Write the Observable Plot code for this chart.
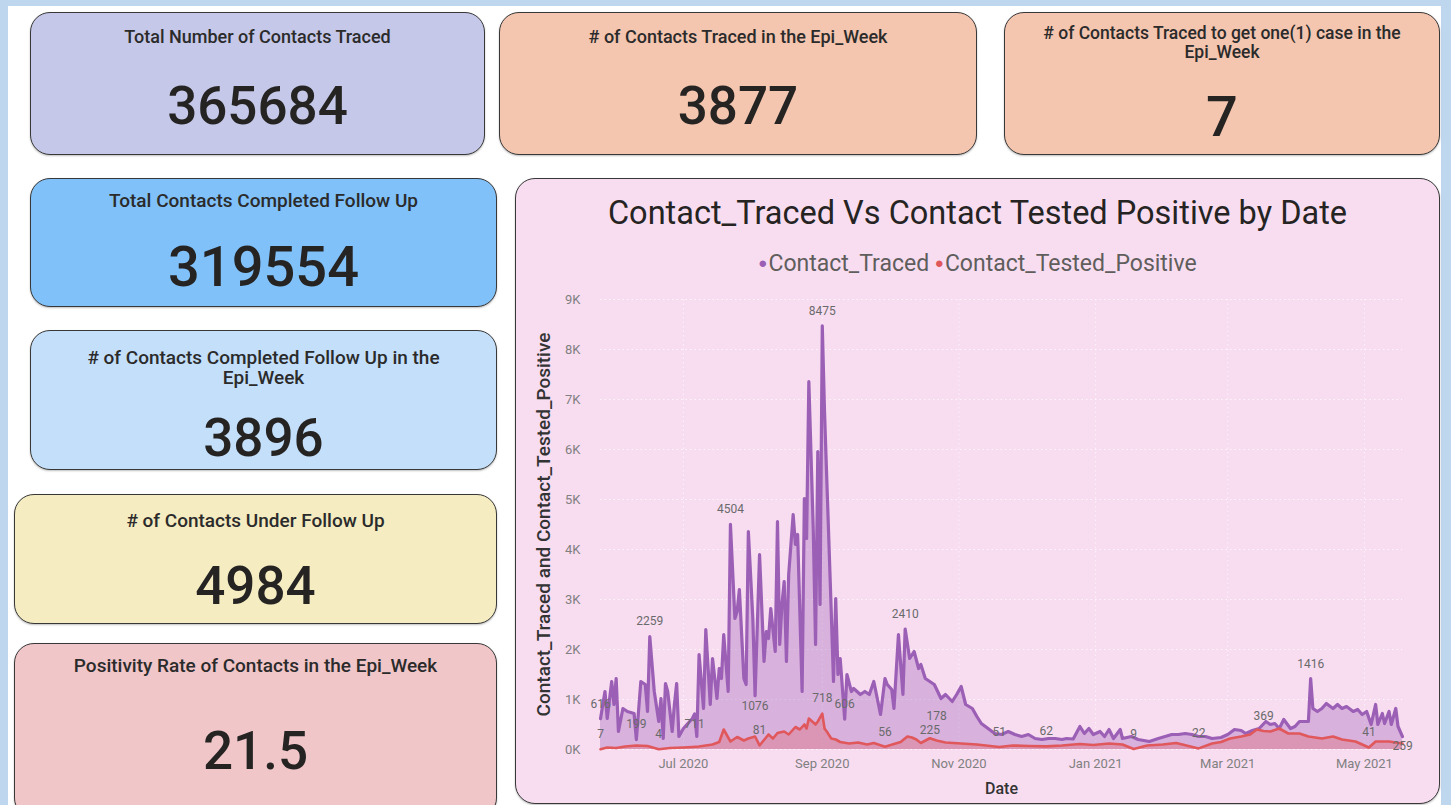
<!DOCTYPE html>
<html><head><meta charset="utf-8">
<script src="https://cdn.jsdelivr.net/npm/d3@7"></script>
<script src="https://cdn.jsdelivr.net/npm/@observablehq/plot@0.6"></script>
<style>
html,body{margin:0;padding:0;}
body{width:1451px;height:805px;background:#BFD7EE;position:relative;overflow:hidden;
  font-family:Roboto,"Noto Sans",sans-serif;color:#252423;}
#panel{position:absolute;left:8px;top:6px;width:1433px;height:799px;background:#fff;}
.card{position:absolute;box-sizing:border-box;border:1.6px solid #383838;border-radius:20px;
  box-shadow:0 1px 2px rgba(0,0,0,0.25);overflow:hidden;}
.ttl{position:absolute;left:0;right:0;text-align:center;white-space:pre-line;line-height:19px;color:#2b2b2b;}
.val{position:absolute;left:0;right:0;text-align:center;line-height:1;font-weight:500;color:#252423;}
#chartTitle{position:absolute;left:0;right:0;text-align:center;font-size:32.5px;line-height:1;color:#252423;}
#legend{position:absolute;left:0;right:0;text-align:center;font-size:23px;line-height:1;color:#605E5C;}
#legend .dot{font-size:15px;vertical-align:3px;margin-right:1px;}
#plotWrap{position:absolute;}
</style>
</head><body>
<div id="panel"></div>
<script>
// ---------- KPI data ----------
const kpiTitles = [
  "Total Number of Contacts Traced",
  "# of Contacts Traced in the Epi_Week",
  "# of Contacts Traced to get one(1) case in the\nEpi_Week",
  "Total Contacts Completed Follow Up",
  "# of Contacts Completed Follow Up in the\nEpi_Week",
  "# of Contacts Under Follow Up",
  "Positivity Rate of Contacts in the Epi_Week"
];
const kpiValues = ["365684", "3877", "7", "319554", "3896", "4984", "21.5"];

// ---------- Chart data ----------
const chartTitle = "Contact_Traced Vs Contact Tested Positive by Date";
const seriesNames = ["Contact_Traced", "Contact_Tested_Positive"];
const seriesColors = ["#9B5FB5", "#E0585B"];

const tracedDates = ["2020-05-25","2020-05-27","2020-05-28","2020-05-30","2020-05-31","2020-06-01","2020-06-02","2020-06-04","2020-06-06","2020-06-09","2020-06-10","2020-06-12","2020-06-14","2020-06-15","2020-06-16","2020-06-18","2020-06-20","2020-06-21","2020-06-22","2020-06-23","2020-06-24","2020-06-26","2020-06-27","2020-06-28","2020-06-29","2020-07-01","2020-07-05","2020-07-06","2020-07-07","2020-07-08","2020-07-10","2020-07-11","2020-07-13","2020-07-14","2020-07-16","2020-07-17","2020-07-18","2020-07-19","2020-07-21","2020-07-22","2020-07-24","2020-07-25","2020-07-26","2020-07-28","2020-07-29","2020-07-30","2020-08-01","2020-08-02","2020-08-04","2020-08-06","2020-08-07","2020-08-08","2020-08-09","2020-08-11","2020-08-12","2020-08-13","2020-08-14","2020-08-15","2020-08-16","2020-08-17","2020-08-19","2020-08-20","2020-08-21","2020-08-23","2020-08-24","2020-08-25","2020-08-26","2020-08-28","2020-08-29","2020-08-30","2020-08-31","2020-09-01","2020-09-02","2020-09-03","2020-09-05","2020-09-06","2020-09-07","2020-09-08","2020-09-09","2020-09-11","2020-09-12","2020-09-14","2020-09-15","2020-09-18","2020-09-20","2020-09-22","2020-09-24","2020-09-27","2020-09-29","2020-09-30","2020-10-02","2020-10-03","2020-10-05","2020-10-07","2020-10-08","2020-10-10","2020-10-12","2020-10-14","2020-10-15","2020-10-17","2020-10-19","2020-10-21","2020-10-24","2020-10-26","2020-10-29","2020-10-31","2020-11-02","2020-11-04","2020-11-07","2020-11-09","2020-11-11","2020-11-14","2020-11-17","2020-11-20","2020-11-23","2020-11-26","2020-11-29","2020-12-02","2020-12-05","2020-12-08","2020-12-11","2020-12-14","2020-12-17","2020-12-19","2020-12-22","2020-12-25","2020-12-27","2020-12-29","2020-12-31","2021-01-03","2021-01-05","2021-01-07","2021-01-09","2021-01-12","2021-01-13","2021-01-17","2021-01-20","2021-01-25","2021-01-29","2021-02-01","2021-02-04","2021-02-07","2021-02-10","2021-02-13","2021-02-16","2021-02-19","2021-02-22","2021-02-26","2021-03-01","2021-03-04","2021-03-07","2021-03-09","2021-03-12","2021-03-15","2021-03-18","2021-03-20","2021-03-22","2021-03-24","2021-03-26","2021-03-29","2021-03-31","2021-04-02","2021-04-05","2021-04-06","2021-04-07","2021-04-08","2021-04-10","2021-04-12","2021-04-14","2021-04-17","2021-04-19","2021-04-21","2021-04-23","2021-04-26","2021-04-28","2021-04-30","2021-05-02","2021-05-04","2021-05-06","2021-05-07","2021-05-09","2021-05-10","2021-05-12","2021-05-13","2021-05-15","2021-05-16","2021-05-18"];
const tracedValues = [616,1160,620,1360,900,1420,360,820,760,720,199,1360,1300,760,2259,1160,560,1020,220,1320,1160,360,900,1320,260,420,620,711,260,1900,820,2400,900,1820,1020,1620,1420,2300,1160,4504,2620,2760,3200,1420,1300,4360,2620,1076,3900,1760,2360,2220,2820,1960,4560,2100,2900,3360,1760,3500,4700,4100,4300,1160,5020,4220,7360,4360,2100,5960,2900,8475,6760,5420,2760,1360,3020,1500,1820,606,1500,1160,1220,1100,1160,1100,1360,700,1420,1300,1200,820,2300,1100,2410,1820,1960,1620,1700,1420,1360,1300,1020,1100,960,1100,1260,900,820,660,520,420,320,300,360,300,260,300,220,200,220,220,200,220,210,460,320,420,300,360,260,400,220,400,220,260,200,160,220,260,300,300,320,300,260,260,220,240,300,400,380,320,380,420,560,500,520,420,600,420,460,560,560,560,1416,820,760,820,920,820,900,820,860,760,800,700,760,500,900,500,720,520,760,500,820,460,259];

const positiveDates = ["2020-05-25","2020-05-28","2020-06-01","2020-06-05","2020-06-10","2020-06-15","2020-06-20","2020-06-25","2020-07-01","2020-07-05","2020-07-08","2020-07-11","2020-07-14","2020-07-17","2020-07-19","2020-07-22","2020-07-25","2020-07-28","2020-07-30","2020-08-02","2020-08-04","2020-08-08","2020-08-10","2020-08-12","2020-08-15","2020-08-17","2020-08-20","2020-08-22","2020-08-24","2020-08-25","2020-08-26","2020-08-29","2020-08-30","2020-09-01","2020-09-02","2020-09-03","2020-09-05","2020-09-07","2020-09-09","2020-09-13","2020-09-17","2020-09-21","2020-09-24","2020-09-29","2020-10-03","2020-10-06","2020-10-09","2020-10-11","2020-10-13","2020-10-15","2020-10-19","2020-10-22","2020-10-26","2020-11-02","2020-11-09","2020-11-19","2020-11-25","2020-12-02","2020-12-10","2020-12-17","2020-12-25","2020-12-31","2021-01-07","2021-01-13","2021-01-18","2021-01-24","2021-01-31","2021-02-06","2021-02-16","2021-02-22","2021-02-26","2021-03-02","2021-03-07","2021-03-11","2021-03-14","2021-03-17","2021-03-20","2021-03-24","2021-03-28","2021-04-02","2021-04-06","2021-04-12","2021-04-17","2021-04-21","2021-04-27","2021-05-03","2021-05-06","2021-05-12","2021-05-18"];
const positiveValues = [7,40,30,60,80,70,4,30,40,50,60,80,100,150,400,160,250,180,220,260,81,300,220,330,360,300,450,400,500,420,620,500,560,718,420,360,220,200,150,120,140,100,130,56,110,150,260,240,200,130,225,178,140,120,100,51,80,70,62,80,110,90,120,100,9,80,100,130,22,120,150,220,260,300,400,369,360,420,320,320,260,220,260,200,160,41,160,160,120];

// dates that carry a data label
const tracedLabelDates = ["2020-05-25","2020-06-10","2020-06-16","2020-07-22","2020-09-01","2020-09-11","2020-10-08","2021-04-07"];
const tracedBelowLabelDates = ["2020-07-06","2020-08-02","2021-05-18"];
const positiveLabelDates = ["2020-05-25","2020-06-20","2020-08-04","2020-09-01","2020-09-29","2020-11-19","2020-12-10","2021-01-18","2021-02-16","2021-03-17","2021-05-03"];
const positiveHighLabelDates = ["2020-10-22"];
const positiveLowLabelDates = ["2020-10-19"];

const yTicks = [0,1000,2000,3000,4000,5000,6000,7000,8000,9000];
const yTickLabels = ["0K","1K","2K","3K","4K","5K","6K","7K","8K","9K"];
const xTicks = ["2020-07-01","2020-09-01","2020-11-01","2021-01-01","2021-03-01","2021-05-01"];
const xTickLabels = ["Jul 2020","Sep 2020","Nov 2020","Jan 2021","Mar 2021","May 2021"];
const xDomain = ["2020-05-25","2021-05-18"];
const xTitle = "Date";
const yTitle = "Contact_Traced and Contact_Tested_Positive";

// ---------- layout (positions / styles) ----------
const cardLayout = [
  {x:30,  y:12,  w:455, h:143, bg:"#C5C8E8", ty:14, tf:"18px", tw:500, vy:67, vf:"53px"},
  {x:499, y:12,  w:478, h:143, bg:"#F4C5AF", ty:14, tf:"18px", tw:500, vy:67, vf:"53px"},
  {x:1004,y:12,  w:436, h:143, bg:"#F4C5AF", ty:11, tf:"17.5px", tw:500, vy:76, vf:"56px"},
  {x:30,  y:178, w:467, h:129, bg:"#80C1FA", ty:12, tf:"19px", tw:500, vy:60, vf:"56px"},
  {x:30,  y:330, w:467, h:140, bg:"#C4DFFA", ty:17, tf:"19px", tw:500, vy:81, vf:"53px", lh:"20px"},
  {x:14,  y:494, w:483, h:130, bg:"#F5ECC1", ty:16, tf:"19px", tw:500, vy:65, vf:"53px"},
  {x:14,  y:643, w:483, h:175, bg:"#F1C6C9", ty:12, tf:"19px", tw:500, vy:81, vf:"53px"}
];

const body = document.body;
kpiTitles.forEach((t, i) => {
  const L = cardLayout[i];
  const c = document.createElement("div");
  c.className = "card";
  Object.assign(c.style, {left:L.x+"px", top:L.y+"px", width:L.w+"px", height:L.h+"px", background:L.bg});
  const tt = document.createElement("div");
  tt.className = "ttl"; tt.textContent = t;
  Object.assign(tt.style, {top:L.ty+"px", fontSize:L.tf, fontWeight:L.tw});
  if (L.lh) tt.style.lineHeight = L.lh;
  const vv = document.createElement("div");
  vv.className = "val"; vv.textContent = kpiValues[i];
  Object.assign(vv.style, {top:L.vy+"px", fontSize:L.vf});
  c.appendChild(tt); c.appendChild(vv);
  body.appendChild(c);
});

// chart card
const cc = document.createElement("div");
cc.className = "card";
Object.assign(cc.style, {left:"515px", top:"178px", width:"925px", height:"626px", background:"#F8DDF1"});
body.appendChild(cc);
const ct = document.createElement("div");
ct.id = "chartTitle"; ct.textContent = chartTitle; ct.style.top = "18px";
cc.appendChild(ct);
const lg = document.createElement("div");
lg.id = "legend"; lg.style.top = "73px";
lg.innerHTML = seriesNames.map((n, i) => `<span class="dot" style="color:${seriesColors[i]}">●</span>${n}`).join(" ");
cc.appendChild(lg);

const parse = s => new Date(s + "T00:00:00Z");
const traced = tracedDates.map((d, i) => ({date: parse(d), value: tracedValues[i]}));
const positive = positiveDates.map((d, i) => ({date: parse(d), value: positiveValues[i]}));
const pick = (arr, ds) => arr.filter(r => ds.some(d => +parse(d) === +r.date));
const lbl = {x: "date", y: "value", text: d => String(d.value), fill: "#6a6a6a", fontSize: 12};

const font = 'Roboto,"Noto Sans",sans-serif';
const plot = Plot.plot({
  width: 910, height: 520,
  marginLeft: 79, marginRight: 29, marginTop: 13, marginBottom: 57,
  style: {background: "transparent", fontFamily: font, fontSize: "13px", color: "#808080", overflow: "visible"},
  x: {type: "utc", domain: xDomain.map(parse)},
  y: {domain: [0, 9000]},
  marks: [
    Plot.gridY(yTicks, {stroke: "#ffffff", strokeOpacity: 0.8, strokeDasharray: "1.5,3"}),
    Plot.gridX(xTicks.map(parse), {stroke: "#ffffff", strokeOpacity: 0.6, strokeDasharray: "1.5,3"}),
    Plot.areaY(traced, {x: "date", y: "value", fill: seriesColors[0], fillOpacity: 0.34}),
    Plot.areaY(positive, {x: "date", y: "value", fill: seriesColors[1], fillOpacity: 0.3}),
    Plot.lineY(traced, {x: "date", y: "value", stroke: seriesColors[0], strokeWidth: 3.2, strokeLinejoin: "round"}),
    Plot.lineY(positive, {x: "date", y: "value", stroke: seriesColors[1], strokeWidth: 2.6, strokeLinejoin: "round"}),
    Plot.text(pick(traced, tracedLabelDates), {...lbl, dy: -15}),
    Plot.text(pick(traced, tracedBelowLabelDates), {...lbl, dy: 10}),
    Plot.text(pick(positive, positiveLabelDates), {...lbl, dy: -15}),
    Plot.text(pick(positive, positiveHighLabelDates), {...lbl, dy: -24}),
    Plot.text(pick(positive, positiveLowLabelDates), {...lbl, dy: -8}),
    Plot.axisY(yTicks, {tickSize: 0, tickPadding: 20, tickFormat: (d) => yTickLabels[yTicks.indexOf(d)],
      label: yTitle, labelAnchor: "center", labelOffset: 64, labelArrow: "none"}),
    Plot.axisX(xTicks.map(parse), {tickSize: 0, tickPadding: 9, tickFormat: (d) => xTickLabels[xTicks.map(parse).findIndex(t => +t === +d)],
      label: xTitle, labelAnchor: "center", labelOffset: 44, labelArrow: "none"})
  ]
});
const wrap = document.createElement("div");
wrap.id = "plotWrap";
wrap.style.left = "5px"; wrap.style.top = "107px";
wrap.appendChild(plot);
cc.appendChild(wrap);

// axis titles styling
d3.select(plot).selectAll('[aria-label="y-axis label"] text')
  .attr("fill", "#333").style("font-size", "19px").style("font-weight", "500");
d3.select(plot).selectAll('[aria-label="x-axis label"] text')
  .attr("fill", "#333").style("font-size", "16px").style("font-weight", "500");
</script>
</body></html>
